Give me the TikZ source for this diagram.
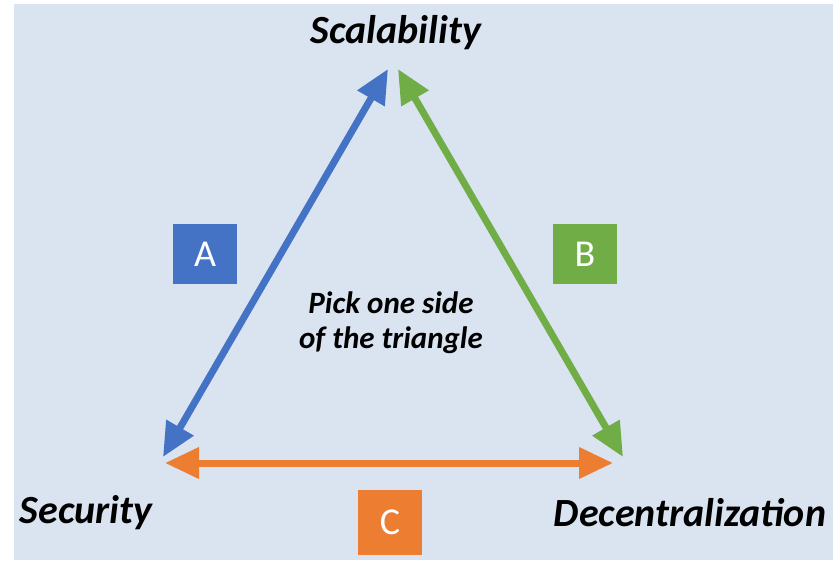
\documentclass[tikz,border=0pt]{standalone}
\usepackage{fontspec}
\setmainfont{Carlito}
\usetikzlibrary{positioning, arrows.meta}
\definecolor{tribg}{HTML}{DAE3F0}
\definecolor{triblue}{HTML}{4472C4}
\definecolor{trigreen}{HTML}{70AD47}
\definecolor{triorange}{HTML}{ED7D31}

\begin{document}
\begin{tikzpicture}[x=1pt, y=-1pt,
    corner/.style={font=\fontsize{40}{44}\selectfont\bfseries\itshape, inner sep=0pt},
    sidebox/.style={minimum width=64pt, minimum height=60pt, inner sep=0pt,
                    text=white, font=\fontsize{38}{42}\selectfont},
    side/.style={line width=7pt, {Triangle[length=34pt, width=30pt]}-{Triangle[length=34pt, width=30pt]}}]
  \useasboundingbox (0,0) rectangle (833,560);
  \fill[white] (0,0) rectangle (833,560);
  \fill[tribg] (14,4) rectangle (833,560);
  % corners of the triangle
  \coordinate (topL) at (388,69);
  \coordinate (topR) at (398,69);
  \coordinate (leftA) at (163,457);
  \coordinate (leftC) at (165,463);
  \coordinate (rightC) at (613,463);
  \coordinate (rightB) at (623,457);
  \draw[side, triblue] (leftA) -- (topL);
  \draw[side, trigreen] (topR) -- (rightB);
  \draw[side, triorange] (leftC) -- (rightC);
  % labels
  \node[corner] (scal) at (396,33) {Scalability};
  \node[corner] (secu) at (86,513) {Security};
  \node[corner] (dece) at (690,513) {Decentralization};
  \node[font=\fontsize{31}{35}\selectfont\bfseries\itshape, align=center] (pick) at (391,323)
    {Pick one side\\of the triangle};
  \node[sidebox, fill=triblue] (boxA) at (205,254) {A};
  \node[sidebox, fill=trigreen] (boxB) at (585,254) {B};
  \node[sidebox, fill=triorange, minimum height=65pt] (boxC) at (390,522) {C};
\end{tikzpicture}
\end{document}
